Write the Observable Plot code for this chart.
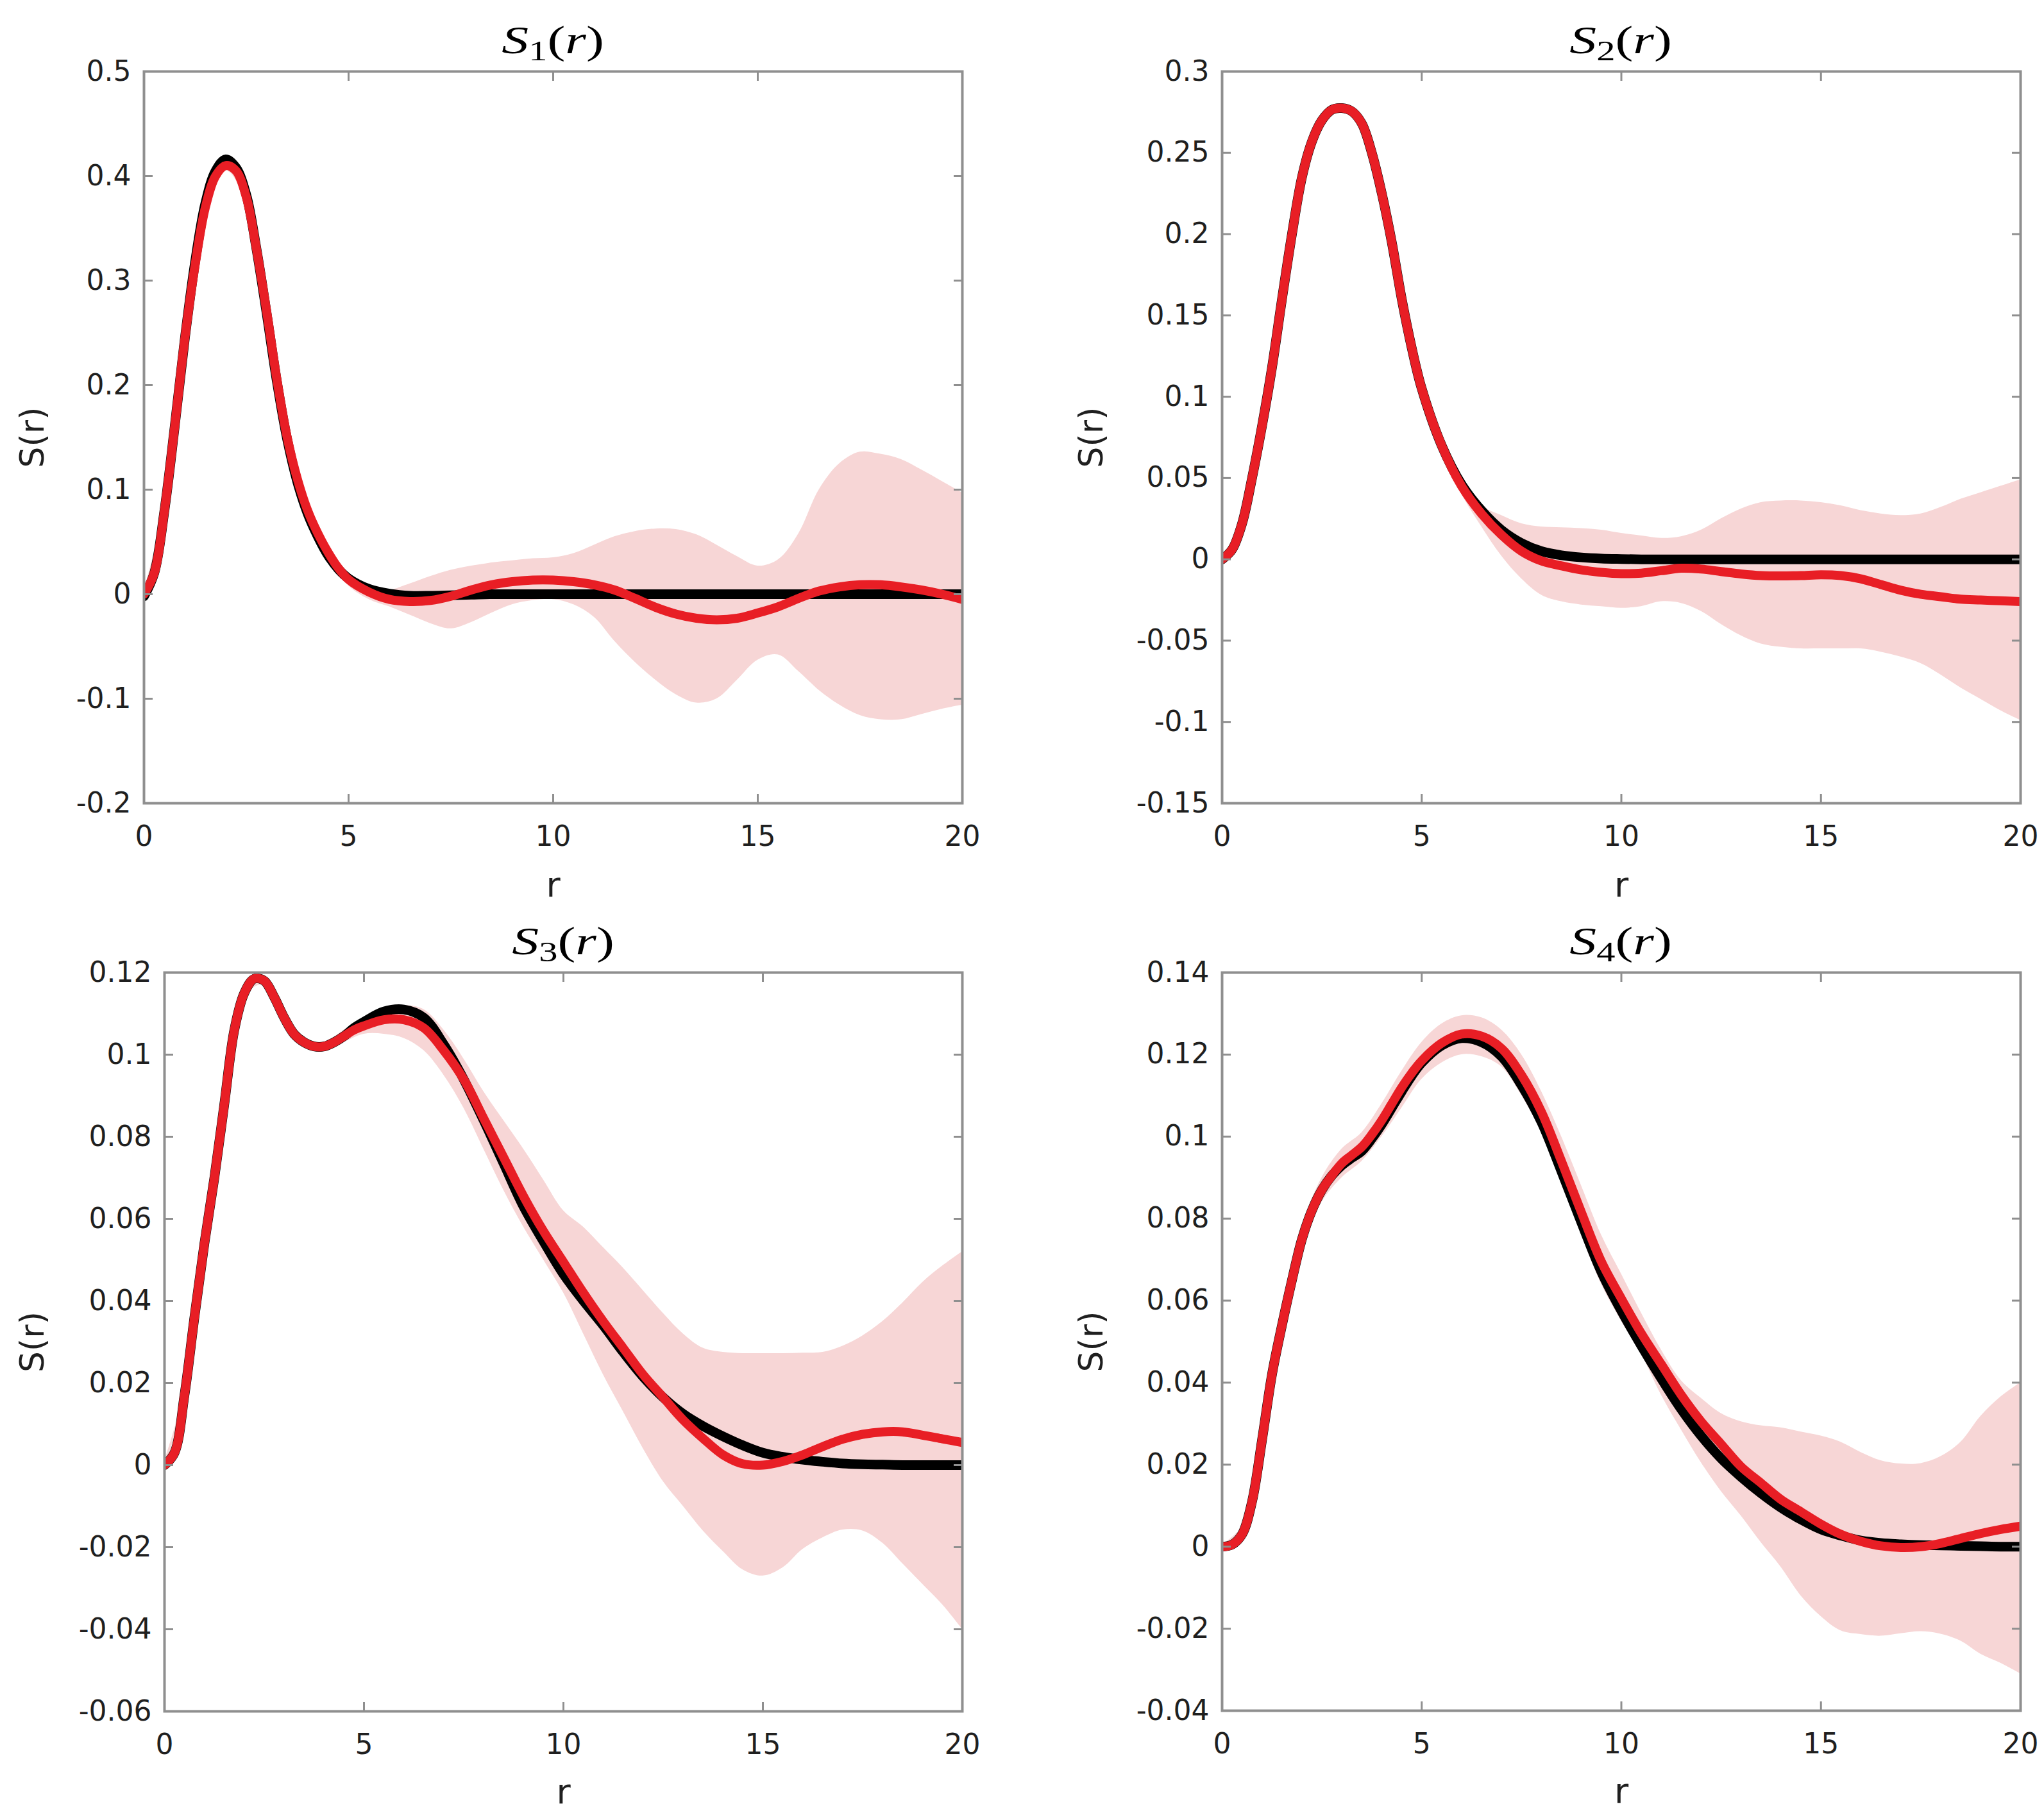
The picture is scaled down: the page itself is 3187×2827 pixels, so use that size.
<!DOCTYPE html>
<html><head><meta charset="utf-8">
<script src="https://cdn.jsdelivr.net/npm/d3@7"></script>
<script src="https://cdn.jsdelivr.net/npm/@observablehq/plot@0.6"></script>
<style>
body{margin:0;background:#fff;}
#page{position:relative;width:3187px;height:2827px;background:#fff;overflow:hidden;}
.panel{position:absolute;}
.title{position:absolute;text-align:center;font-family:'Liberation Serif',serif;font-size:62px;line-height:1;color:#000;white-space:nowrap;}
.title .t{display:inline-block;transform:scaleX(1.35);transform-origin:center;}
.title i{font-style:italic;}
.title sub{font-size:0.7em;vertical-align:-0.25em;line-height:0;}
</style></head><body><div id="page"></div><script>
// r grid for the curves
const R = [0,0.25,0.5,0.75,1,1.25,1.5,1.75,2,2.25,2.5,2.75,3,3.25,3.5,3.75,4,4.25,4.5,4.75,5,
  5.5,6,6.5,7,7.5,8,8.5,9,9.5,10,10.5,11,11.5,12,12.5,13,13.5,14,14.5,15,15.5,16,16.5,17,17.5,18,18.5,19,19.5,20];
// r grid for the bands
const RB = [0,0.5,1,1.5,2,2.5,3,3.5,4,4.5,5,5.5,6,6.5,7,7.5,8,8.5,9,9.5,10,10.5,11,11.5,12,12.5,13,13.5,14,14.5,15,15.5,16,16.5,17,17.5,18,18.5,19,19.5,20];

// S1
const s1Black = [-0.002,0.02,0.08,0.16,0.245,0.318,0.374,0.405,0.416,0.408,0.382,0.33,0.268,0.203,0.148,0.107,0.077,0.055,0.037,0.024,0.015,
  0.005,0.0005,-0.0015,-0.0015,-0.001,-0.0005,0,0,0,0,0,0,0,0,0,0,0,0,0,0,0,0,0,0,0,0,0,0,0,0];
const s1Red = [0,0.02,0.08,0.16,0.245,0.315,0.37,0.40,0.41,0.405,0.38,0.33,0.27,0.205,0.15,0.11,0.08,0.058,0.04,0.025,0.014,
  0.002,-0.005,-0.007,-0.006,-0.002,0.004,0.009,0.012,0.0135,0.0135,0.012,0.009,0.004,-0.004,-0.0125,-0.019,-0.023,-0.0245,-0.023,-0.018,-0.012,-0.004,0.003,0.007,0.009,0.009,0.007,0.004,0.0,-0.005];
const s1Lo = [-0.003,0.076,0.24,0.365,0.405,0.375,0.265,0.145,0.075,0.035,0.008,-0.005,-0.012,-0.02,-0.028,-0.033,-0.027,-0.018,-0.01,-0.006,-0.005,
  -0.01,-0.022,-0.045,-0.065,-0.082,-0.096,-0.104,-0.1,-0.082,-0.063,-0.058,-0.074,-0.092,-0.106,-0.116,-0.12,-0.12,-0.115,-0.11,-0.106];
const s1Hi = [0.003,0.084,0.25,0.376,0.416,0.385,0.275,0.155,0.085,0.045,0.019,0.006,0.004,0.01,0.017,0.023,0.027,0.03,0.032,0.034,0.035,
  0.039,0.047,0.055,0.06,0.0625,0.062,0.057,0.047,0.036,0.027,0.033,0.058,0.1,0.125,0.136,0.134,0.129,0.119,0.108,0.097];

// S2
const s2Black = [0,0.006,0.022,0.05,0.082,0.118,0.16,0.2,0.235,0.257,0.27,0.2765,0.2775,0.2755,0.268,0.25,0.225,0.195,0.16,0.13,0.105,
  0.07,0.046,0.03,0.018,0.01,0.005,0.0025,0.0012,0.0005,0.0002,0,0,0,0,0,0,0,0,0,0,0,0,0,0,0,0,0,0,0,0];
const s2Red = [0,0.006,0.022,0.05,0.082,0.118,0.16,0.2,0.235,0.257,0.27,0.2765,0.2775,0.2755,0.268,0.25,0.225,0.195,0.16,0.13,0.105,
  0.07,0.045,0.028,0.015,0.005,-0.001,-0.004,-0.0065,-0.008,-0.0088,-0.0085,-0.007,-0.0055,-0.006,-0.0075,-0.009,-0.01,-0.0102,-0.01,-0.0095,-0.01,-0.012,-0.0155,-0.019,-0.0215,-0.023,-0.0245,-0.025,-0.0255,-0.026];
const s2Lo = [-0.001,0.02,0.08,0.158,0.233,0.268,0.275,0.266,0.222,0.157,0.102,0.066,0.04,0.02,0.002,-0.012,-0.022,-0.026,-0.028,-0.029,-0.03,
  -0.029,-0.026,-0.027,-0.032,-0.04,-0.047,-0.052,-0.054,-0.055,-0.055,-0.055,-0.055,-0.057,-0.06,-0.064,-0.071,-0.079,-0.086,-0.093,-0.099];
const s2Hi = [0.001,0.024,0.084,0.162,0.237,0.272,0.28,0.27,0.228,0.163,0.108,0.074,0.05,0.033,0.027,0.022,0.02,0.0195,0.019,0.018,0.016,
  0.0145,0.013,0.014,0.018,0.025,0.031,0.035,0.036,0.036,0.035,0.033,0.03,0.028,0.027,0.028,0.032,0.037,0.041,0.045,0.049];

// S3
const s3Black = [0,0.003,0.017,0.036,0.054,0.07,0.088,0.106,0.115,0.1185,0.118,0.114,0.109,0.105,0.103,0.102,0.102,0.103,0.1045,0.1065,0.108,
  0.1105,0.111,0.109,0.1025,0.094,0.084,0.0735,0.063,0.0545,0.0465,0.04,0.034,0.0275,0.0215,0.0165,0.0125,0.0095,0.007,0.0048,0.003,0.002,0.0013,0.0008,0.0004,0.0002,0.0001,0,0,0,0];
const s3Red = [0,0.003,0.017,0.036,0.054,0.07,0.088,0.106,0.115,0.1185,0.118,0.114,0.109,0.105,0.103,0.102,0.102,0.103,0.1045,0.106,0.107,
  0.1085,0.1085,0.1065,0.101,0.094,0.0845,0.075,0.0655,0.057,0.0495,0.042,0.035,0.0285,0.022,0.0165,0.011,0.0065,0.0025,0.0003,0.0,0.0009,0.0025,0.0045,0.0063,0.0075,0.0081,0.0081,0.0073,0.0064,0.0055];
const s3Lo = [-0.001,0.016,0.053,0.087,0.114,0.117,0.108,0.102,0.101,0.103,0.105,0.105,0.104,0.101,0.095,0.087,0.077,0.067,0.058,0.05,0.042,
  0.032,0.022,0.013,0.004,-0.004,-0.01,-0.016,-0.021,-0.0255,-0.027,-0.025,-0.0205,-0.0177,-0.0158,-0.016,-0.019,-0.024,-0.029,-0.034,-0.04];
const s3Hi = [0.001,0.018,0.055,0.089,0.116,0.119,0.11,0.104,0.103,0.106,0.109,0.111,0.112,0.111,0.106,0.099,0.091,0.084,0.077,0.0695,0.062,
  0.058,0.053,0.048,0.0425,0.037,0.032,0.0285,0.0275,0.0272,0.0272,0.0272,0.0273,0.0275,0.029,0.0315,0.035,0.0395,0.0445,0.0485,0.052];

// S4
const s4Black = [0,0.0005,0.003,0.011,0.026,0.042,0.054,0.065,0.075,0.082,0.087,0.0905,0.093,0.0948,0.0965,0.0995,0.103,0.107,0.111,0.1148,0.118,
  0.1222,0.124,0.123,0.1195,0.1125,0.1035,0.0915,0.079,0.067,0.0575,0.049,0.041,0.0335,0.027,0.0215,0.017,0.013,0.0095,0.0066,0.0042,0.0027,0.0015,0.0009,0.0006,0.0004,0.0003,0.0002,0.0001,0,0];
const s4Red = [0,0.0005,0.003,0.011,0.026,0.042,0.054,0.065,0.075,0.082,0.087,0.0905,0.0935,0.0955,0.0975,0.1005,0.104,0.108,0.112,0.1155,0.1185,
  0.1228,0.125,0.1245,0.1215,0.115,0.106,0.094,0.0815,0.0695,0.0605,0.052,0.0445,0.037,0.0305,0.025,0.0195,0.0155,0.0115,0.0085,0.0055,0.003,0.0013,0.0002,-0.0002,0.0,0.0008,0.002,0.0032,0.0042,0.005];
const s4Lo = [-0.0005,0.001,0.023,0.051,0.072,0.084,0.09,0.094,0.1,0.107,0.114,0.118,0.12,0.1195,0.117,0.11,0.101,0.089,0.076,0.064,0.055,
  0.047,0.037,0.0285,0.0205,0.0135,0.0075,0.001,-0.005,-0.012,-0.017,-0.0205,-0.0214,-0.0218,-0.0212,-0.0207,-0.0213,-0.023,-0.0262,-0.0284,-0.031];
const s4Hi = [0.0005,0.005,0.029,0.057,0.078,0.09,0.097,0.101,0.108,0.116,0.123,0.1275,0.1295,0.129,0.126,0.12,0.111,0.1,0.088,0.076,0.0665,
  0.057,0.048,0.0405,0.0362,0.0325,0.0305,0.0295,0.029,0.028,0.027,0.0255,0.023,0.021,0.0202,0.0203,0.022,0.0255,0.0318,0.0365,0.04];

// axes
const xTicks = [0,5,10,15,20];
const yTicks1 = [-0.2,-0.1,0,0.1,0.2,0.3,0.4,0.5];
const yTicks2 = [-0.15,-0.1,-0.05,0,0.05,0.1,0.15,0.2,0.25,0.3];
const yTicks3 = [-0.06,-0.04,-0.02,0,0.02,0.04,0.06,0.08,0.1,0.12];
const yTicks4 = [-0.04,-0.02,0,0.02,0.04,0.06,0.08,0.1,0.12,0.14];
const subscripts = ["1","2","3","4"];
const xLabel = "r";
const yLabel = "S(r)";

const fmt = d => (d < 0 ? "-" : "") + String(+Math.abs(d).toFixed(2));

const panels = [
  {box:[0,0,1590,1420], frame:[224,111,1500,1252], black:s1Black, red:s1Red, lo:s1Lo, hi:s1Hi, yTicks:yTicks1, yl:173, xl:145, sub:subscripts[0]},
  {box:[1590,0,1597,1420], frame:[1905,111,3150,1252], black:s2Black, red:s2Red, lo:s2Lo, hi:s2Hi, yTicks:yTicks2, yl:203, xl:145, sub:subscripts[1]},
  {box:[0,1420,1590,1407], frame:[256,1516,1500,2668], black:s3Black, red:s3Red, lo:s3Lo, hi:s3Hi, yTicks:yTicks3, yl:205, xl:143, sub:subscripts[2]},
  {box:[1590,1420,1597,1407], frame:[1905,1516,3150,2667], black:s4Black, red:s4Red, lo:s4Lo, hi:s4Hi, yTicks:yTicks4, yl:203, xl:143, sub:subscripts[3]}
];

const page = document.getElementById("page");
const grey = "#8f8f8f";
const ink = "#1f1f1f";
for (const p of panels) {
  const line = R.map((r, i) => ({r, black: p.black[i], red: p.red[i]}));
  const band = RB.map((r, i) => ({r, lo: p.lo[i], hi: p.hi[i]}));
  const yDomain = [p.yTicks[0], p.yTicks[p.yTicks.length - 1]];
  const chart = Plot.plot({
    width: p.box[2], height: p.box[3],
    marginLeft: p.frame[0] - p.box[0],
    marginRight: p.box[0] + p.box[2] - p.frame[2],
    marginTop: p.frame[1] - p.box[1],
    marginBottom: p.box[1] + p.box[3] - p.frame[3],
    style: {fontFamily: "DejaVu Sans", fontSize: "44px", color: ink, background: "transparent"},
    x: {domain: [0, 20]},
    y: {domain: yDomain},
    marks: [
      Plot.areaY(band, {x: "r", y1: "lo", y2: "hi", fill: "#f7d6d6", curve: "catmull-rom", clip: true}),
      Plot.line(line, {x: "r", y: "black", stroke: "#000", strokeWidth: 15, curve: "catmull-rom", clip: true}),
      Plot.line(line, {x: "r", y: "red", stroke: "#e81e25", strokeWidth: 14, curve: "catmull-rom", clip: true}),
      Plot.frame({stroke: grey, strokeWidth: 4}),
      Plot.axisX(xTicks, {anchor: "bottom", tickSize: 0, tickPadding: 35, fontSize: 44, label: null, tickFormat: fmt}),
      Plot.axisX(xTicks, {anchor: "bottom", tickSize: -14, fill: "none", stroke: grey, strokeWidth: 3, label: null}),
      Plot.axisX(xTicks, {anchor: "top", tickSize: -14, fill: "none", stroke: grey, strokeWidth: 3, label: null}),
      Plot.axisY(p.yTicks, {anchor: "left", tickSize: 0, tickPadding: 20, fontSize: 44, label: null, tickFormat: fmt}),
      Plot.axisY(p.yTicks, {anchor: "left", tickSize: -14, fill: "none", stroke: grey, strokeWidth: 3, label: null}),
      Plot.axisY(p.yTicks, {anchor: "right", tickSize: -14, fill: "none", stroke: grey, strokeWidth: 3, label: null}),
      Plot.text([xLabel], {text: d => d, frameAnchor: "bottom", dy: p.xl, lineAnchor: "bottom", textAnchor: "middle", fontSize: 54, fill: ink}),
      Plot.text([yLabel], {text: d => d, frameAnchor: "left", dx: -p.yl, rotate: -90, textAnchor: "middle", lineAnchor: "middle", fontSize: 52, fill: ink})
    ]
  });
  const holder = document.createElement("div");
  holder.className = "panel";
  holder.style.left = p.box[0] + "px";
  holder.style.top = p.box[1] + "px";
  holder.appendChild(chart);
  page.appendChild(holder);

  const t = document.createElement("div");
  t.className = "title";
  t.style.left = p.frame[0] + "px";
  t.style.width = (p.frame[2] - p.frame[0]) + "px";
  t.style.top = (p.frame[1] - 29 - 51) + "px";
  t.innerHTML = `<span class="t"><i>S</i><sub>${p.sub}</sub>(<i>r</i>)</span>`;
  page.appendChild(t);
}
</script></body></html>
